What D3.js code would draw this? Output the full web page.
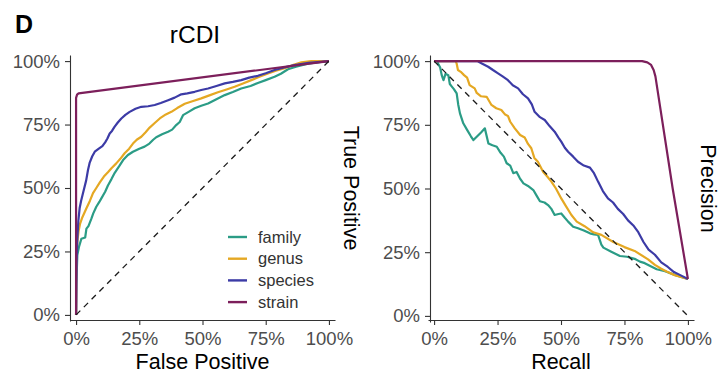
<!DOCTYPE html>
<html>
<head>
<meta charset="utf-8">
<script src="https://cdn.jsdelivr.net/npm/d3@7"></script>
<style>
  html, body { margin: 0; padding: 0; background: #fff; }
  svg { display: block; }
  text { font-family: "Liberation Sans", Arial, Helvetica, sans-serif; }
</style>
</head>
<body>
<script>
// Taxonomic levels and their colours
const levels = ["family", "genus", "species", "strain"];
const levelColors = ["#2b9c86", "#e5a823", "#3c3ba6", "#7c1f5b"];

// Tick values shared by both panels
const tickValues = [0, 0.25, 0.5, 0.75, 1];
const tickLabels = ["0%", "25%", "50%", "75%", "100%"];

// ROC curves: [false positive rate, true positive rate]
const rocFamily = [[0,0],[0.001,0.12],[0.005,0.236],[0.012,0.27],[0.021,0.30],[0.036,0.305],[0.041,0.34],[0.049,0.35],[0.061,0.38],[0.068,0.40],[0.08,0.426],[0.092,0.445],[0.10,0.459],[0.115,0.485],[0.126,0.51],[0.14,0.535],[0.153,0.56],[0.17,0.585],[0.186,0.61],[0.205,0.63],[0.225,0.643],[0.25,0.655],[0.271,0.663],[0.29,0.675],[0.305,0.69],[0.317,0.70],[0.34,0.712],[0.364,0.722],[0.38,0.73],[0.396,0.748],[0.41,0.76],[0.423,0.787],[0.445,0.80],[0.469,0.814],[0.495,0.824],[0.522,0.833],[0.555,0.85],[0.588,0.866],[0.62,0.878],[0.653,0.892],[0.69,0.902],[0.719,0.914],[0.75,0.925],[0.785,0.938],[0.81,0.95],[0.838,0.968],[0.87,0.978],[0.917,0.99],[0.96,0.996],[1,1]];
const rocGenus = [[0,0],[0.001,0.2],[0.003,0.26],[0.005,0.289],[0.01,0.33],[0.016,0.36],[0.025,0.385],[0.041,0.42],[0.055,0.45],[0.067,0.48],[0.08,0.5],[0.094,0.522],[0.11,0.545],[0.126,0.562],[0.14,0.578],[0.159,0.597],[0.175,0.615],[0.192,0.637],[0.21,0.655],[0.225,0.675],[0.24,0.69],[0.258,0.702],[0.275,0.72],[0.291,0.738],[0.31,0.755],[0.331,0.774],[0.355,0.79],[0.377,0.80],[0.40,0.815],[0.43,0.832],[0.46,0.842],[0.495,0.853],[0.53,0.866],[0.561,0.877],[0.595,0.888],[0.627,0.899],[0.66,0.912],[0.693,0.925],[0.725,0.938],[0.759,0.951],[0.79,0.962],[0.825,0.972],[0.86,0.985],[0.891,0.995],[0.93,1],[1,1]];
const rocSpecies = [[0,0],[0.001,0.1],[0.002,0.2],[0.005,0.3],[0.009,0.37],[0.014,0.42],[0.02,0.45],[0.03,0.49],[0.04,0.53],[0.047,0.57],[0.054,0.6],[0.064,0.625],[0.074,0.643],[0.09,0.655],[0.104,0.665],[0.115,0.68],[0.124,0.695],[0.133,0.715],[0.142,0.725],[0.152,0.741],[0.165,0.758],[0.179,0.774],[0.195,0.788],[0.212,0.80],[0.235,0.812],[0.258,0.82],[0.285,0.822],[0.311,0.827],[0.335,0.835],[0.364,0.846],[0.39,0.856],[0.416,0.869],[0.44,0.873],[0.469,0.879],[0.495,0.886],[0.522,0.892],[0.555,0.902],[0.588,0.912],[0.62,0.918],[0.653,0.925],[0.685,0.935],[0.719,0.942],[0.75,0.952],[0.785,0.965],[0.82,0.974],[0.864,0.984],[0.92,0.993],[1,1]];
const rocStrain = [[0,0],[0,0.855],[0.004,0.868],[0.01,0.873],[1,1]];

// Precision-recall curves: [recall, precision]
const prFamily = [[0,1],[0.012,1],[0.016,0.99],[0.024,0.975],[0.03,0.945],[0.037,0.925],[0.045,0.95],[0.056,0.945],[0.062,0.91],[0.07,0.9],[0.078,0.89],[0.089,0.873],[0.095,0.83],[0.102,0.795],[0.115,0.756],[0.13,0.73],[0.145,0.705],[0.155,0.69],[0.17,0.705],[0.185,0.72],[0.2,0.736],[0.214,0.677],[0.23,0.67],[0.247,0.664],[0.262,0.64],[0.275,0.625],[0.286,0.599],[0.3,0.59],[0.312,0.56],[0.325,0.565],[0.338,0.54],[0.352,0.52],[0.37,0.51],[0.391,0.494],[0.405,0.47],[0.417,0.45],[0.435,0.445],[0.449,0.435],[0.462,0.42],[0.475,0.396],[0.49,0.40],[0.501,0.402],[0.515,0.385],[0.528,0.37],[0.548,0.35],[0.567,0.344],[0.59,0.335],[0.614,0.324],[0.63,0.32],[0.646,0.318],[0.659,0.28],[0.667,0.268],[0.698,0.252],[0.732,0.235],[0.76,0.232],[0.79,0.224],[0.811,0.213],[0.83,0.207],[0.877,0.183],[0.91,0.175],[0.948,0.161],[1,0.145]];
const prGenus = [[0,1],[0.085,1],[0.089,0.99],[0.094,0.965],[0.105,0.958],[0.118,0.945],[0.13,0.935],[0.14,0.906],[0.16,0.893],[0.168,0.875],[0.185,0.862],[0.207,0.86],[0.226,0.828],[0.245,0.815],[0.265,0.808],[0.28,0.79],[0.291,0.785],[0.30,0.762],[0.318,0.736],[0.339,0.71],[0.357,0.70],[0.37,0.675],[0.383,0.658],[0.395,0.62],[0.409,0.605],[0.43,0.565],[0.445,0.548],[0.462,0.527],[0.48,0.50],[0.501,0.461],[0.52,0.43],[0.541,0.396],[0.562,0.37],[0.593,0.352],[0.627,0.328],[0.659,0.318],[0.706,0.29],[0.75,0.27],[0.79,0.255],[0.843,0.222],[0.87,0.20],[0.895,0.185],[0.916,0.174],[0.948,0.16],[1,0.145]];
const prSpecies = [[0,1],[0.17,1],[0.19,0.99],[0.213,0.978],[0.232,0.965],[0.252,0.952],[0.27,0.94],[0.291,0.925],[0.31,0.905],[0.331,0.893],[0.35,0.87],[0.37,0.854],[0.385,0.83],[0.396,0.801],[0.417,0.78],[0.436,0.769],[0.455,0.745],[0.475,0.723],[0.49,0.70],[0.501,0.684],[0.515,0.66],[0.528,0.644],[0.548,0.625],[0.567,0.605],[0.59,0.59],[0.614,0.582],[0.63,0.56],[0.646,0.527],[0.665,0.49],[0.685,0.461],[0.705,0.445],[0.724,0.42],[0.745,0.40],[0.764,0.375],[0.785,0.355],[0.803,0.331],[0.825,0.29],[0.845,0.26],[0.87,0.24],[0.895,0.21],[0.921,0.192],[0.945,0.172],[0.97,0.16],[1,0.145]];
const prStrain = [[0,1],[0.82,1],[0.84,0.995],[0.855,0.985],[0.865,0.965],[0.872,0.94],[0.94,0.50],[1,0.145]];

const rocSeries = [rocFamily, rocGenus, rocSpecies, rocStrain];
const prSeries = [prFamily, prGenus, prSpecies, prStrain];

const W = 722, H = 377;
const svg = d3.select("body").append("svg").attr("width", W).attr("height", H);

const pad = [-0.024, 1.024];

function panel(opts) {
  const x = d3.scaleLinear().domain(pad).range(opts.xRange);
  const y = d3.scaleLinear().domain(pad).range(opts.yRange);
  const g = svg.append("g");

  const line = d3.line().x(d => x(d[0])).y(d => y(d[1]));

  opts.series.forEach((s, i) => {
    g.append("path")
      .attr("d", line(s))
      .attr("fill", "none")
      .attr("stroke", levelColors[i])
      .attr("stroke-width", 2.2)
      .attr("stroke-linejoin", "round");
  });

  // chance line
  g.append("path")
    .attr("d", line(opts.diagonal))
    .attr("fill", "none")
    .attr("stroke", "#1a1a1a")
    .attr("stroke-width", 1.3)
    .attr("stroke-dasharray", "6,5");

  const fmt = d => tickLabels[tickValues.indexOf(d)];

  const xAxis = g.append("g")
    .attr("transform", `translate(0,${opts.xAxisY})`)
    .call(d3.axisBottom(x).tickValues(tickValues).tickFormat(fmt).tickSize(5).tickSizeOuter(0).tickPadding(7));
  const yAxis = g.append("g")
    .attr("transform", `translate(${opts.yAxisX},0)`)
    .call(d3.axisLeft(y).tickValues(tickValues).tickFormat(fmt).tickSize(5).tickSizeOuter(0).tickPadding(5));

  [xAxis, yAxis].forEach(a => {
    a.select(".domain").attr("stroke", "#333").attr("stroke-width", 1.1);
    a.selectAll(".tick line").attr("stroke", "#333").attr("stroke-width", 1.1);
    a.selectAll(".tick text")
      .attr("fill", "#4d4d4d")
      .style("font-size", "18.5px")
      .style("font-family", "'Liberation Sans', Arial, Helvetica, sans-serif");
  });

  // axis titles
  g.append("text")
    .attr("x", (opts.xRange[0] + opts.xRange[1]) / 2)
    .attr("y", 369)
    .attr("text-anchor", "middle")
    .style("font-size", "21.5px")
    .attr("fill", "#000")
    .text(opts.xTitle);

  g.append("text")
    .attr("transform", `translate(${opts.yTitleX},${(opts.yRange[0] + opts.yRange[1]) / 2}) rotate(90)`)
    .attr("text-anchor", "middle")
    .style("font-size", "21.5px")
    .attr("fill", "#000")
    .text(opts.yTitle);

  return { x, y, g };
}

panel({
  xRange: [70, 335], yRange: [321, 55],
  xAxisY: 320, yAxisX: 70,
  series: rocSeries, diagonal: [[0, 0], [1, 1]],
  xTitle: "False Positive", yTitle: "True Positive", yTitleX: 344
});

panel({
  xRange: [428, 694], yRange: [322, 55],
  xAxisY: 320, yAxisX: 430,
  series: prSeries, diagonal: [[0, 1], [1, 0]],
  xTitle: "Recall", yTitle: "Precision", yTitleX: 701
});

// panel title and tag
svg.append("text")
  .attr("x", 195).attr("y", 43)
  .attr("text-anchor", "middle")
  .style("font-size", "24.5px")
  .attr("fill", "#000")
  .text("rCDI");

svg.append("text")
  .attr("x", 15).attr("y", 33)
  .style("font-size", "25px")
  .style("font-weight", "bold")
  .attr("fill", "#000")
  .text("D");

// legend inside the ROC panel
const legend = svg.append("g").attr("transform", "translate(228,237)");
levels.forEach((lv, i) => {
  const row = legend.append("g").attr("transform", `translate(0,${i * 21.7})`);
  row.append("line")
    .attr("x1", 0).attr("x2", 19)
    .attr("y1", 0).attr("y2", 0)
    .attr("stroke", levelColors[i])
    .attr("stroke-width", 2.4);
  row.append("text")
    .attr("x", 30).attr("y", 0)
    .attr("dy", "0.35em")
    .style("font-size", "16.5px")
    .attr("fill", "#333")
    .text(lv);
});
</script>
</body>
</html>
